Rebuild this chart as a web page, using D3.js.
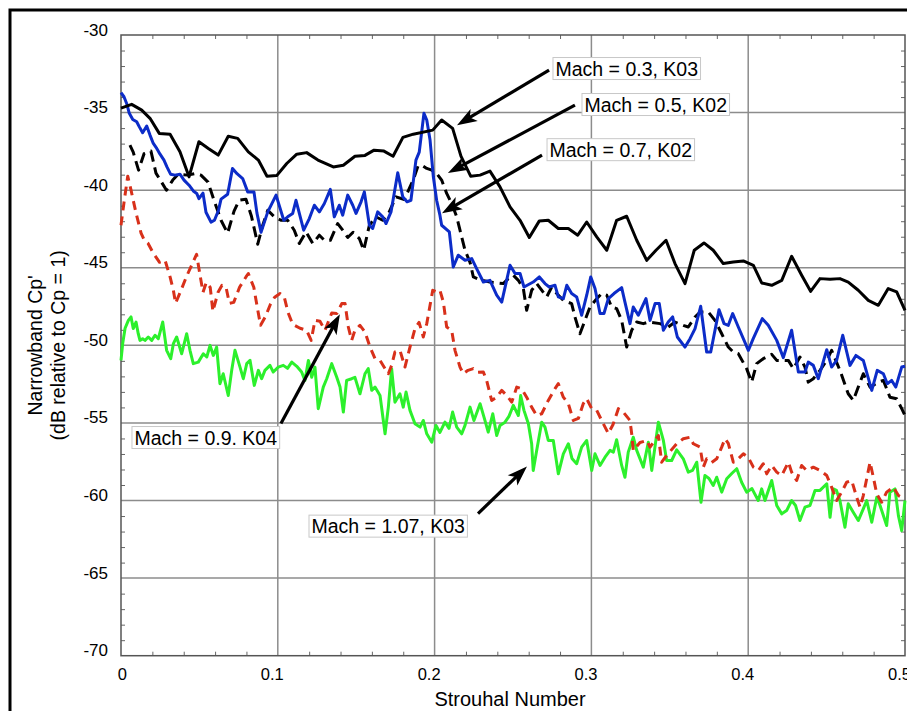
<!DOCTYPE html>
<html>
<head>
<meta charset="utf-8">
<script src="https://cdn.jsdelivr.net/npm/d3@7"></script>
<style>
body{margin:0;background:#fff}
text{font-family:"Liberation Sans",Arial,Helvetica,sans-serif}
</style>
</head>
<body>
<svg id="chart" width="907" height="711"></svg>
<script>
// axis ticks
var xTicks = [0,0.1,0.2,0.3,0.4,0.5]
var xTickLabels = ["0","0.1","0.2","0.3","0.4","0.5"]
var yTicks = [-30,-35,-40,-45,-50,-55,-60,-65,-70]
var yTickLabels = ["-30","-35","-40","-45","-50","-55","-60","-65","-70"]

// Mach 0.3, K03 (black solid)
var mach03 = [[0,-34.71],[0.0068,-34.47],[0.0132,-34.84],[0.0185,-35.37],[0.0244,-36.34],[0.0313,-36.39],[0.0376,-37.53],[0.0434,-39.14],[0.0497,-36.88],[0.0557,-37.31],[0.0620,-37.74],[0.0684,-36.52],[0.0744,-36.66],[0.0812,-37.53],[0.0876,-38.06],[0.0931,-39.10],[0.0993,-39.06],[0.1057,-38.28],[0.1121,-37.68],[0.1184,-37.58],[0.1256,-38.06],[0.1354,-38.50],[0.1418,-38.39],[0.1492,-37.81],[0.1556,-37.76],[0.1614,-37.42],[0.1677,-37.48],[0.1735,-37.81],[0.1798,-36.60],[0.1864,-36.39],[0.1988,-36.13],[0.2045,-35.48],[0.2115,-36.02],[0.2168,-37.81],[0.2230,-39.10],[0.2290,-39.03],[0.2353,-38.77],[0.2417,-39.79],[0.2481,-41.08],[0.2545,-41.94],[0.2604,-43.05],[0.2668,-41.98],[0.2725,-41.94],[0.2789,-42.47],[0.2853,-42.47],[0.2913,-42.90],[0.2970,-42.05],[0.3034,-43.01],[0.3098,-43.87],[0.3161,-41.94],[0.3225,-41.68],[0.3289,-43.23],[0.3353,-44.52],[0.3412,-43.87],[0.3476,-43.23],[0.3533,-44.73],[0.3597,-46.02],[0.3656,-43.87],[0.3718,-43.40],[0.3777,-43.87],[0.3841,-44.73],[0.3905,-44.63],[0.3969,-44.56],[0.4033,-44.84],[0.4086,-45.98],[0.4150,-46.13],[0.4214,-45.81],[0.4277,-44.26],[0.4341,-45.48],[0.4398,-46.52],[0.4458,-45.70],[0.4522,-45.74],[0.4585,-45.70],[0.4638,-45.92],[0.4702,-46.45],[0.4766,-47.10],[0.4830,-47.42],[0.4893,-46.34],[0.4947,-46.56],[0.5,-47.74]]

// Mach 0.5, K02 (blue)
var mach05 = [[0,-33.72],[0.0019,-33.98],[0.0036,-34.41],[0.0053,-35.05],[0.0075,-35.44],[0.0100,-35.59],[0.0117,-35.92],[0.0138,-36.30],[0.0164,-35.87],[0.0185,-36.45],[0.0206,-36.99],[0.0228,-37.31],[0.0249,-37.68],[0.0274,-38.06],[0.0293,-38.50],[0.0316,-38.97],[0.0344,-39.03],[0.0376,-38.97],[0.0402,-39.35],[0.0434,-39.68],[0.0461,-40.05],[0.0483,-40.21],[0.0497,-40.55],[0.0523,-40.19],[0.0542,-41.42],[0.0574,-42.06],[0.0596,-41.94],[0.0622,-41.29],[0.0638,-40.58],[0.0680,-40.26],[0.0711,-38.60],[0.0740,-38.94],[0.0776,-39.25],[0.0808,-40.11],[0.0848,-40.11],[0.0867,-41.48],[0.0893,-42.71],[0.0936,-41.40],[0.0989,-40.32],[0.1038,-41.94],[0.1063,-41.72],[0.1095,-41.50],[0.1116,-40.65],[0.1165,-42.58],[0.1201,-41.83],[0.1233,-40.97],[0.1265,-41.40],[0.1297,-40.86],[0.1335,-39.95],[0.1360,-41.72],[0.1392,-40.97],[0.1414,-41.61],[0.1446,-40.32],[0.1478,-40.97],[0.1499,-41.50],[0.1531,-40.75],[0.1552,-40.11],[0.1584,-42.26],[0.1605,-42.47],[0.1637,-41.40],[0.1669,-41.72],[0.1690,-42.15],[0.1722,-41.40],[0.1765,-38.88],[0.1797,-40.43],[0.1824,-40.75],[0.1849,-40.65],[0.1881,-38.06],[0.1902,-37.55],[0.1932,-35.05],[0.1950,-35.48],[0.1971,-36.77],[0.1992,-39.14],[0.2013,-40.65],[0.2034,-41.61],[0.2045,-42.26],[0.2094,-42.69],[0.2119,-44.95],[0.2151,-44.19],[0.2194,-44.52],[0.2237,-44.41],[0.2268,-45.05],[0.2311,-45.92],[0.2353,-45.81],[0.2396,-46.77],[0.2428,-47.21],[0.2481,-44.84],[0.2513,-45.37],[0.2545,-45.37],[0.2570,-46.24],[0.2629,-45.92],[0.2668,-45.59],[0.2704,-46.02],[0.2731,-46.24],[0.2768,-46.13],[0.2789,-46.88],[0.2821,-46.99],[0.2843,-46.13],[0.2874,-46.66],[0.2906,-46.88],[0.2938,-48.06],[0.2970,-46.77],[0.2996,-45.59],[0.3023,-46.34],[0.3055,-47.95],[0.3080,-47.95],[0.3108,-46.99],[0.3144,-46.66],[0.3193,-46.28],[0.3214,-47.21],[0.3246,-48.60],[0.3267,-47.53],[0.3299,-48.06],[0.3348,-46.99],[0.3374,-48.39],[0.3406,-47.31],[0.3433,-47.31],[0.3459,-49.03],[0.3490,-48.50],[0.3518,-48.17],[0.3548,-49.46],[0.3597,-50.11],[0.3629,-49.57],[0.3661,-48.92],[0.3697,-47.48],[0.3735,-50.43],[0.3761,-50.43],[0.3814,-47.70],[0.3846,-48.60],[0.3873,-48.71],[0.3901,-47.95],[0.3937,-48.82],[0.4001,-50.32],[0.4032,-49.57],[0.4090,-48.28],[0.4128,-48.71],[0.4182,-49.68],[0.4224,-50.79],[0.4277,-49.03],[0.4320,-51.72],[0.4362,-51.72],[0.4383,-51.08],[0.4415,-51.29],[0.4447,-52.15],[0.4501,-50.28],[0.4532,-51.40],[0.4564,-50.97],[0.4603,-49.35],[0.4649,-51.29],[0.4687,-50.65],[0.4734,-50.97],[0.4788,-52.90],[0.4823,-51.61],[0.4862,-51.83],[0.4887,-52.47],[0.4915,-52.26],[0.4941,-52.69],[0.4979,-51.40],[0.5,-51.35]]

// Mach 0.7, K02 (black dashed)
var mach07 = [[0.0057,-37.10],[0.0078,-37.55],[0.0112,-38.71],[0.0147,-37.65],[0.0191,-37.48],[0.0223,-38.90],[0.0290,-40.00],[0.0330,-39.35],[0.0365,-38.97],[0.0425,-39.03],[0.0478,-38.92],[0.0510,-39.03],[0.0555,-39.48],[0.0593,-40.65],[0.0638,-41.94],[0.0680,-42.77],[0.0721,-41.35],[0.0753,-40.65],[0.0797,-40.58],[0.0832,-41.68],[0.0872,-43.48],[0.0904,-42.26],[0.0936,-41.29],[0.0978,-41.72],[0.1020,-41.94],[0.1063,-41.94],[0.1105,-42.58],[0.1137,-43.44],[0.1180,-42.69],[0.1223,-43.44],[0.1265,-42.90],[0.1297,-43.23],[0.1335,-43.23],[0.1382,-42.15],[0.1414,-42.58],[0.1446,-43.05],[0.1480,-42.71],[0.1520,-43.12],[0.1548,-43.87],[0.1584,-42.26],[0.1626,-41.72],[0.1669,-41.94],[0.1711,-41.40],[0.1754,-40.43],[0.1807,-40.60],[0.1839,-39.89],[0.1867,-39.25],[0.1894,-38.45],[0.1918,-38.39],[0.1950,-38.60],[0.1982,-38.71],[0.2013,-38.92],[0.2045,-39.35],[0.2077,-40.21],[0.2109,-40.86],[0.2141,-41.72],[0.2162,-42.58],[0.2194,-43.87],[0.2226,-44.65],[0.2247,-45.59],[0.2300,-45.81],[0.2353,-45.92],[0.2406,-45.98],[0.2438,-46.02],[0.2470,-45.70],[0.2502,-45.48],[0.2534,-45.81],[0.2566,-46.34],[0.2587,-47.74],[0.2619,-46.45],[0.2651,-46.02],[0.2715,-46.88],[0.2747,-46.24],[0.2779,-46.66],[0.2821,-47.10],[0.2874,-47.31],[0.2895,-48.17],[0.2927,-49.25],[0.2959,-48.39],[0.2991,-47.53],[0.3034,-46.99],[0.3066,-46.66],[0.3098,-46.77],[0.3129,-47.53],[0.3161,-47.63],[0.3193,-48.39],[0.3225,-50.11],[0.3257,-49.03],[0.3289,-48.50],[0.3331,-48.60],[0.3363,-48.50],[0.3438,-48.60],[0.3490,-48.82],[0.3533,-48.50],[0.3586,-48.71],[0.3618,-48.82],[0.3661,-48.17],[0.3693,-47.85],[0.3746,-47.85],[0.3788,-48.39],[0.3831,-49.25],[0.3873,-50.11],[0.3905,-50.43],[0.3937,-50.54],[0.3990,-51.50],[0.4022,-52.37],[0.4054,-51.18],[0.4096,-50.86],[0.4150,-50.58],[0.4182,-50.97],[0.4256,-50.97],[0.4288,-51.50],[0.4330,-50.75],[0.4362,-51.40],[0.4383,-52.37],[0.4415,-52.15],[0.4458,-51.61],[0.4501,-50.97],[0.4532,-50.32],[0.4585,-51.61],[0.4638,-53.12],[0.4670,-53.55],[0.4702,-52.69],[0.4734,-51.83],[0.4777,-52.69],[0.4830,-52.37],[0.4862,-52.26],[0.4904,-53.34],[0.4947,-53.44],[0.4979,-54.08],[0.5,-54.52]]

// Mach 0.9, K04 (red dashed)
var mach09 = [[0,-42.26],[0.0021,-40.65],[0.0043,-39.10],[0.0064,-40.00],[0.0096,-41.48],[0.0128,-42.77],[0.0149,-43.23],[0.0172,-43.42],[0.0206,-44.06],[0.0246,-44.65],[0.0281,-44.52],[0.0313,-45.59],[0.0334,-46.45],[0.0348,-47.29],[0.0383,-46.45],[0.0416,-45.61],[0.0450,-44.84],[0.0482,-44.13],[0.0502,-45.35],[0.0523,-46.58],[0.0544,-45.94],[0.0569,-46.26],[0.0586,-47.81],[0.0619,-46.58],[0.0644,-46.13],[0.0670,-46.26],[0.0691,-47.29],[0.0719,-47.23],[0.0756,-46.26],[0.0797,-45.59],[0.0812,-45.37],[0.0847,-46.26],[0.0869,-47.55],[0.0890,-48.71],[0.0922,-48.13],[0.0953,-47.35],[0.0980,-46.90],[0.1014,-46.66],[0.1041,-46.88],[0.1065,-47.87],[0.1095,-48.65],[0.1142,-48.90],[0.1184,-49.03],[0.1213,-49.68],[0.1237,-48.39],[0.1269,-48.45],[0.1301,-49.03],[0.1344,-47.92],[0.1376,-47.95],[0.1408,-47.31],[0.1429,-47.31],[0.1450,-48.82],[0.1471,-49.68],[0.1492,-49.03],[0.1524,-48.71],[0.1556,-49.14],[0.1588,-50.11],[0.1620,-50.86],[0.1652,-50.97],[0.1684,-51.50],[0.1705,-51.83],[0.1726,-51.29],[0.1747,-50.43],[0.1779,-50.32],[0.1811,-51.40],[0.1843,-50.11],[0.1875,-48.92],[0.1901,-48.52],[0.1928,-49.46],[0.1950,-48.60],[0.1971,-47.42],[0.1988,-46.45],[0.2013,-46.56],[0.2034,-46.45],[0.2056,-47.21],[0.2077,-48.82],[0.2109,-49.03],[0.2130,-50.32],[0.2162,-51.40],[0.2183,-51.83],[0.2213,-51.61],[0.2247,-51.50],[0.2277,-51.74],[0.2311,-51.72],[0.2332,-52.26],[0.2364,-53.55],[0.2396,-53.34],[0.2428,-52.90],[0.2460,-53.23],[0.2492,-53.66],[0.2524,-52.69],[0.2555,-52.79],[0.2587,-53.34],[0.2619,-53.98],[0.2651,-54.52],[0.2683,-54.41],[0.2725,-53.55],[0.2768,-52.79],[0.2789,-52.47],[0.2821,-53.34],[0.2853,-53.76],[0.2885,-54.84],[0.2917,-54.71],[0.2948,-53.76],[0.2970,-53.44],[0.3002,-54.08],[0.3034,-54.19],[0.3076,-55.05],[0.3108,-55.68],[0.3138,-55.10],[0.3172,-54.08],[0.3203,-54.30],[0.3246,-54.84],[0.3257,-55.70],[0.3267,-56.77],[0.3310,-56.26],[0.3353,-56.13],[0.3374,-56.56],[0.3427,-55.81],[0.3448,-57.53],[0.3480,-57.10],[0.3544,-56.34],[0.3586,-56.02],[0.3629,-55.92],[0.3650,-56.34],[0.3693,-56.56],[0.3714,-57.85],[0.3735,-57.31],[0.3767,-57.55],[0.3799,-57.31],[0.3831,-56.56],[0.3852,-56.02],[0.3873,-56.32],[0.3905,-57.53],[0.3937,-57.31],[0.3969,-56.99],[0.4001,-57.23],[0.4033,-57.85],[0.4065,-58.06],[0.4096,-57.63],[0.4118,-58.28],[0.4150,-57.74],[0.4182,-58.17],[0.4214,-58.39],[0.4256,-57.53],[0.4277,-58.17],[0.4309,-58.71],[0.4341,-57.74],[0.4373,-58.06],[0.4415,-57.85],[0.4458,-58.06],[0.4501,-58.39],[0.4532,-59.14],[0.4564,-60.00],[0.4596,-59.46],[0.4628,-58.82],[0.4660,-58.71],[0.4692,-59.79],[0.4713,-60.43],[0.4734,-59.68],[0.4777,-57.53],[0.4798,-58.50],[0.4820,-59.57],[0.4851,-60.11],[0.4883,-59.46],[0.4926,-59.14],[0.4958,-59.68],[0.5,-59.89]]

// Mach 1.07, K03 (green)
var mach107 = [[0,-50.97],[0.0011,-49.87],[0.0026,-48.90],[0.0047,-48.39],[0.0064,-48.17],[0.0078,-48.92],[0.0096,-48.50],[0.0110,-49.25],[0.0121,-49.68],[0.0138,-49.57],[0.0153,-49.68],[0.0174,-49.46],[0.0196,-49.68],[0.0217,-49.35],[0.0238,-49.57],[0.0266,-48.50],[0.0291,-50.32],[0.0317,-50.86],[0.0334,-49.89],[0.0355,-49.46],[0.0387,-50.54],[0.0419,-49.25],[0.0440,-50.32],[0.0461,-51.18],[0.0493,-51.08],[0.0525,-50.54],[0.0547,-50.75],[0.0568,-50.00],[0.0589,-50.65],[0.0610,-50.11],[0.0631,-52.47],[0.0652,-51.83],[0.0684,-53.23],[0.0706,-51.61],[0.0727,-50.32],[0.0759,-51.40],[0.0780,-52.15],[0.0802,-51.18],[0.0823,-50.97],[0.0850,-52.58],[0.0876,-51.61],[0.0897,-52.15],[0.0918,-51.61],[0.0950,-51.29],[0.0971,-51.72],[0.1003,-51.40],[0.1035,-51.29],[0.1062,-51.48],[0.1089,-51.08],[0.1121,-51.35],[0.1152,-51.72],[0.1173,-52.26],[0.1195,-50.97],[0.1216,-52.05],[0.1237,-51.40],[0.1258,-54.08],[0.1290,-52.69],[0.1312,-52.15],[0.1344,-51.18],[0.1376,-52.05],[0.1397,-52.69],[0.1418,-54.30],[0.1439,-52.26],[0.1471,-52.15],[0.1492,-52.06],[0.1524,-53.12],[0.1556,-51.83],[0.1577,-51.50],[0.1599,-52.90],[0.1620,-52.69],[0.1652,-53.23],[0.1684,-55.70],[0.1705,-53.98],[0.1726,-51.50],[0.1747,-53.66],[0.1779,-53.12],[0.1800,-53.98],[0.1818,-53.01],[0.1843,-54.19],[0.1875,-55.05],[0.1907,-55.27],[0.1928,-54.84],[0.1950,-55.70],[0.1982,-56.24],[0.2009,-55.16],[0.2034,-55.61],[0.2066,-54.95],[0.2092,-55.35],[0.2115,-54.30],[0.2141,-55.27],[0.2173,-55.70],[0.2194,-55.16],[0.2226,-53.98],[0.2251,-54.84],[0.2290,-53.76],[0.2321,-54.84],[0.2342,-55.59],[0.2371,-54.41],[0.2396,-55.81],[0.2417,-55.16],[0.2449,-54.95],[0.2474,-54.58],[0.2502,-53.87],[0.2534,-54.52],[0.2549,-53.23],[0.2570,-54.19],[0.2598,-55.05],[0.2619,-56.34],[0.2629,-58.06],[0.2651,-56.77],[0.2683,-54.95],[0.2704,-55.27],[0.2725,-56.13],[0.2757,-56.13],[0.2789,-58.28],[0.2821,-56.99],[0.2853,-56.34],[0.2876,-57.29],[0.2906,-57.63],[0.2938,-56.56],[0.2970,-56.13],[0.3002,-58.06],[0.3023,-56.99],[0.3055,-57.74],[0.3087,-57.21],[0.3119,-56.77],[0.3140,-56.88],[0.3161,-56.08],[0.3193,-57.74],[0.3214,-58.50],[0.3235,-56.88],[0.3267,-55.92],[0.3289,-56.77],[0.3331,-57.85],[0.3363,-56.24],[0.3385,-58.06],[0.3427,-54.95],[0.3459,-56.13],[0.3480,-57.42],[0.3512,-57.42],[0.3544,-56.73],[0.3586,-57.31],[0.3618,-58.17],[0.3645,-58.06],[0.3672,-57.53],[0.3699,-60.11],[0.3724,-58.39],[0.3750,-58.58],[0.3777,-59.03],[0.3799,-58.50],[0.3831,-59.46],[0.3863,-58.60],[0.3895,-58.26],[0.3927,-57.95],[0.3958,-58.82],[0.3990,-59.46],[0.4024,-59.23],[0.4064,-60.00],[0.4086,-59.25],[0.4107,-60.00],[0.4150,-58.71],[0.4182,-60.32],[0.4214,-60.86],[0.4245,-60.65],[0.4277,-60.00],[0.4302,-60.32],[0.4330,-61.29],[0.4362,-60.43],[0.4394,-60.32],[0.4426,-59.35],[0.4458,-59.35],[0.4501,-58.92],[0.4522,-61.08],[0.4543,-59.25],[0.4563,-59.35],[0.4585,-60.00],[0.4617,-61.72],[0.4638,-60.21],[0.4670,-60.75],[0.4702,-61.29],[0.4734,-60.54],[0.4756,-60.00],[0.4788,-61.40],[0.4820,-59.79],[0.4841,-60.32],[0.4862,-60.97],[0.4883,-61.61],[0.4904,-59.46],[0.4936,-59.25],[0.4958,-60.97],[0.4979,-61.94],[0.5,-60.00]]

// callouts: label box anchor (left edge, vertical middle) and arrow from / to, in data units
var labels = ["Mach = 0.3, K03","Mach = 0.5, K02","Mach = 0.7, K02","Mach = 0.9. K04","Mach = 1.07, K03"]
var labelPos = [[0.2755,-32.16],[0.2940,-34.48],[0.2717,-37.39],[0.0070,-55.94],[0.1199,-61.65]]
var arrowFrom = [[0.2730,-32.26],[0.2895,-34.52],[0.2685,-37.74],[0.1020,-55.03],[0.2277,-60.84]]
var arrowTo = [[0.2143,-35.81],[0.2085,-38.90],[0.2047,-41.48],[0.1396,-48.00],[0.2589,-57.81]]

var W = 907, H = 711
var pLeft = 121, pRight = 905, pTop = 35, pBottom = 655.7

var svg = d3.select("#chart")
var x = d3.scaleLinear().domain([0,0.5]).range([pLeft,pRight])
var y = d3.scaleLinear().domain([-70,-30]).range([pBottom,pTop])

svg.append("rect").attr("width",W).attr("height",H).attr("fill","#fff")
// outer frame, runs off the right and bottom edges
svg.append("rect").attr("x",10).attr("y",10).attr("width",1000).attr("height",1000)
    .attr("fill","none").attr("stroke","#000").attr("stroke-width",3)

// grid
svg.selectAll(".gridx").data(xTicks.slice(1,-1)).enter().append("line")
    .attr("class","gridx")
    .attr("x1",function(d){return x(d)}).attr("x2",function(d){return x(d)})
    .attr("y1",pTop).attr("y2",pBottom)
    .attr("stroke","#8c8c8c").attr("stroke-width",1.5)
svg.selectAll(".gridy").data(yTicks.slice(1,-1)).enter().append("line")
    .attr("class","gridy")
    .attr("y1",function(d){return y(d)}).attr("y2",function(d){return y(d)})
    .attr("x1",pLeft).attr("x2",pRight)
    .attr("stroke","#8c8c8c").attr("stroke-width",1.5)

// minor ticks, inward on all four sides
var xMinor = d3.range(0.02,0.5,0.02).filter(function(d){return Math.abs(d*10-Math.round(d*10))>1e-6})
var yMinor = d3.range(-69,-30,1).filter(function(d){return d%5!=0})
function minor(g){
    g.select(".domain").remove()
    g.selectAll("line").attr("stroke","#666").attr("stroke-width",1)
}
svg.append("g").attr("transform","translate(0,"+pBottom+")")
    .call(d3.axisBottom(x).tickValues(xMinor).tickSize(-4).tickFormat("")).call(minor)
svg.append("g").attr("transform","translate(0,"+pTop+")")
    .call(d3.axisTop(x).tickValues(xMinor).tickSize(-4).tickFormat("")).call(minor)
svg.append("g").attr("transform","translate("+pLeft+",0)")
    .call(d3.axisLeft(y).tickValues(yMinor).tickSize(-4).tickFormat("")).call(minor)
svg.append("g").attr("transform","translate("+pRight+",0)")
    .call(d3.axisRight(y).tickValues(yMinor).tickSize(-4).tickFormat("")).call(minor)

// plot frame
svg.append("rect").attr("x",pLeft).attr("y",pTop).attr("width",pRight-pLeft).attr("height",pBottom-pTop)
    .attr("fill","none").attr("stroke","#555").attr("stroke-width",1.5)

// tick labels
var yAxis = svg.append("g").attr("transform","translate("+pLeft+",0)")
    .call(d3.axisLeft(y).tickValues(yTicks).tickSize(0).tickPadding(13).tickFormat(function(d,i){return yTickLabels[i]}))
yAxis.select(".domain").remove()
yAxis.selectAll("text").attr("dy",0).attr("font-size",17).attr("font-family","Liberation Sans, Arial, sans-serif").attr("fill","#000")

var xAxis = svg.append("g").attr("transform","translate(0,"+pBottom+")")
    .call(d3.axisBottom(x).tickValues(xTicks).tickSize(0).tickFormat(function(d,i){return xTickLabels[i]}))
xAxis.select(".domain").remove()
xAxis.selectAll("text").attr("dy",0).attr("y",24.5).attr("x",5.5).attr("text-anchor","end")
    .attr("font-size",16.5).attr("font-family","Liberation Sans, Arial, sans-serif").attr("fill","#000")

// axis titles
svg.append("text").text("Strouhal Number").attr("x",510).attr("y",706)
    .attr("text-anchor","middle").attr("font-size",20)
svg.append("text").text("Narrowband Cp'")
    .attr("transform","translate(35,"+(pTop+pBottom)/2+") rotate(-90)")
    .attr("text-anchor","middle").attr("dominant-baseline","central").attr("font-size",19.5)
svg.append("text").text("(dB relative to Cp = 1)")
    .attr("transform","translate(58,"+(pTop+pBottom)/2+") rotate(-90)")
    .attr("text-anchor","middle").attr("dominant-baseline","central").attr("font-size",19.5)

// series
var line = d3.line().x(function(d){return x(d[0])}).y(function(d){return y(d[1])})
var series = [
    {data:mach107, color:"#2cf02c", dash:null},
    {data:mach09, color:"#d8301a", dash:"9,6"},
    {data:mach07, color:"#000", dash:"11,6"},
    {data:mach05, color:"#0c2cc8", dash:null},
    {data:mach03, color:"#000", dash:null}
]
svg.selectAll(".series").data(series).enter().append("path")
    .attr("class","series")
    .attr("d",function(d){return line(d.data)})
    .attr("fill","none")
    .attr("stroke",function(d){return d.color})
    .attr("stroke-width",3)
    .attr("stroke-linejoin","round")
    .attr("stroke-dasharray",function(d){return d.dash})

// callouts
for(var i=0;i<labels.length;i++){
    var x0 = x(arrowFrom[i][0]), y0 = y(arrowFrom[i][1])
    var x1 = x(arrowTo[i][0]), y1 = y(arrowTo[i][1])
    var ang = Math.atan2(y1-y0,x1-x0)
    svg.append("line")
        .attr("x1",x0).attr("y1",y0)
        .attr("x2",x1-12*Math.cos(ang)).attr("y2",y1-12*Math.sin(ang))
        .attr("stroke","#000").attr("stroke-width",3.2)
    svg.append("path").attr("d","M0,0 L-20,-7 L-15,0 L-20,7 Z")
        .attr("transform","translate("+x1+","+y1+") rotate("+(ang*180/Math.PI)+")")
        .attr("fill","#000")

    var g = svg.append("g")
    var t = g.append("text").text(labels[i])
        .attr("x",x(labelPos[i][0])+2.5).attr("y",y(labelPos[i][1]))
        .attr("dominant-baseline","central").attr("font-size",19.5).attr("fill","#000")
    var bb = t.node().getBBox()
    g.insert("rect","text")
        .attr("x",x(labelPos[i][0])).attr("y",bb.y)
        .attr("width",bb.width+5).attr("height",bb.height)
        .attr("fill","#fff").attr("stroke","#c8c8c8").attr("stroke-width",1)
}
</script>
</body>
</html>
